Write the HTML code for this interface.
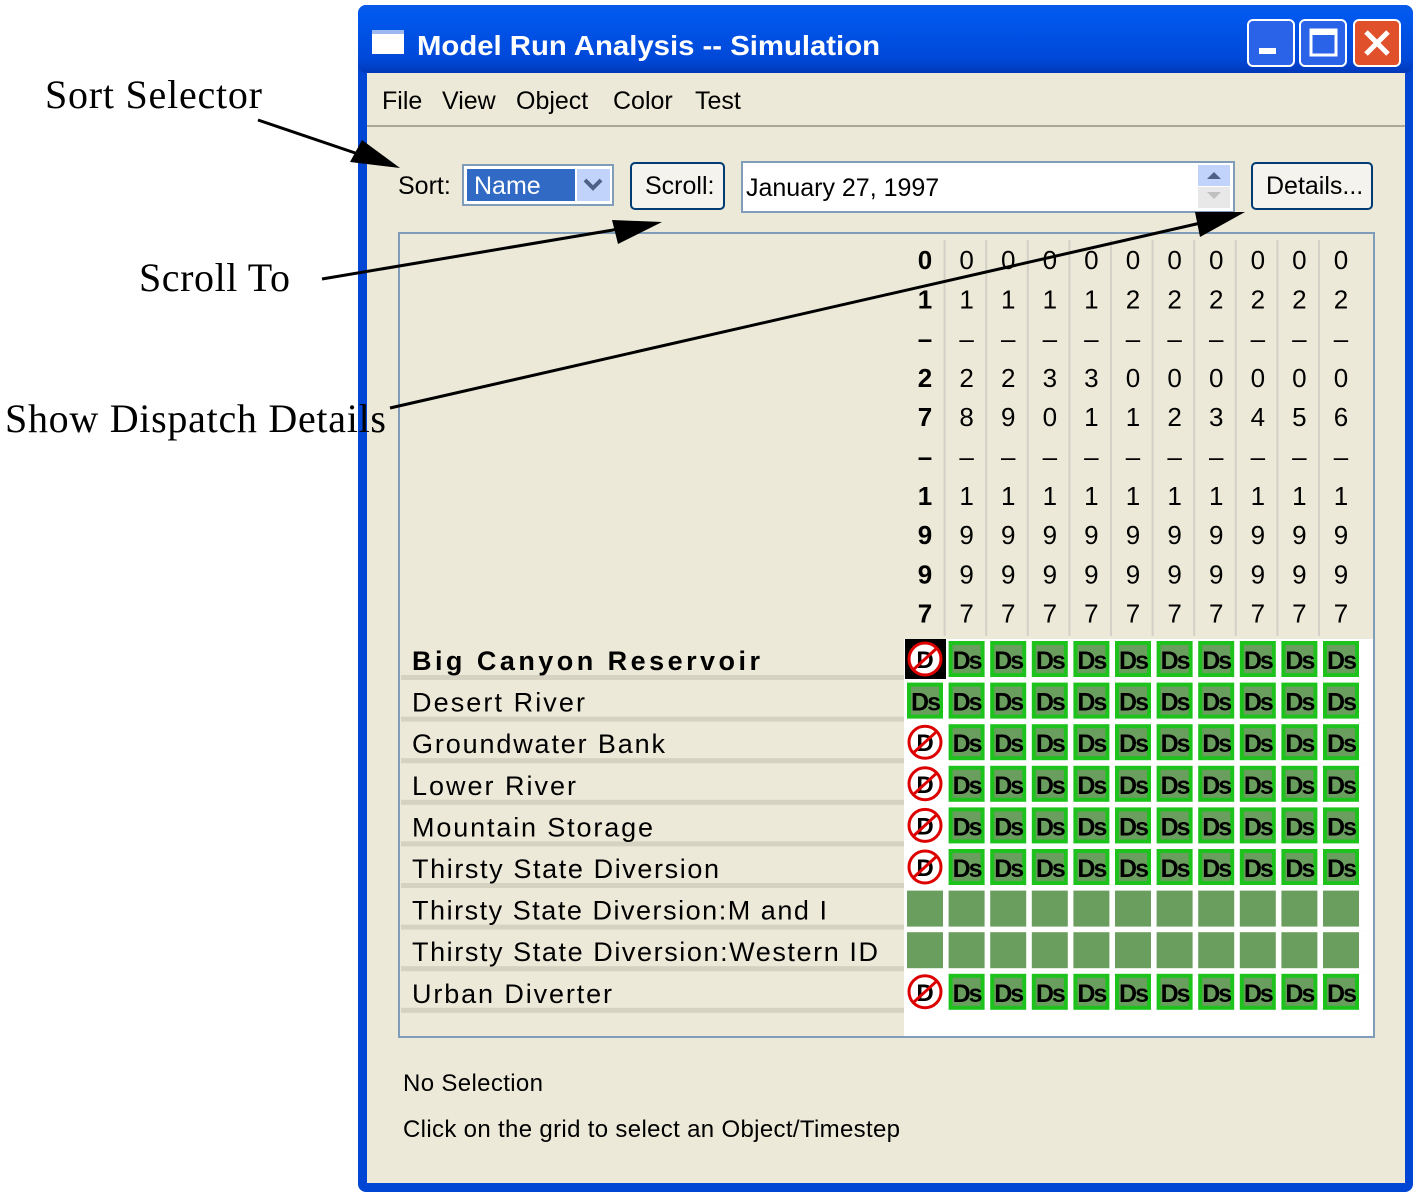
<!DOCTYPE html>
<html><head><meta charset="utf-8"><style>
html,body{margin:0;padding:0;background:#fff;width:1417px;height:1200px;overflow:hidden}
svg{display:block}
</style></head><body>
<svg id="s" width="1417" height="1200" xmlns="http://www.w3.org/2000/svg" font-family="Liberation Sans, sans-serif">
<defs>
<linearGradient id="tb" x1="0" y1="0" x2="0" y2="1"><stop offset="0" stop-color="#0A5BE8"/><stop offset="0.15" stop-color="#0058EE"/><stop offset="0.8" stop-color="#0048D8"/><stop offset="1" stop-color="#0038B8"/></linearGradient>
</defs>
<rect x="358" y="5" width="1055" height="1187" rx="8" fill="#0046D5"/>
<rect x="358" y="5" width="1055" height="68" rx="8" fill="url(#tb)"/>
<rect x="367" y="73" width="1038" height="1110" fill="#ECE9D8"/>
<rect x="372" y="32" width="32" height="22" fill="#fff"/><rect x="372" y="30" width="32" height="4" fill="#9BB8F0"/>
<text x="417" y="55" font-size="28" font-weight="bold" fill="#fff" textLength="463" lengthAdjust="spacingAndGlyphs">Model Run Analysis -- Simulation</text>
<rect x="1248" y="20" width="46" height="46" rx="5" fill="#2A62E8" stroke="#fff" stroke-width="2"/>
<rect x="1259" y="48" width="17" height="6" fill="#fff"/>
<rect x="1300" y="20" width="46" height="46" rx="5" fill="#2A62E8" stroke="#fff" stroke-width="2"/>
<rect x="1311" y="30" width="25" height="25" fill="none" stroke="#fff" stroke-width="3"/><rect x="1311" y="30" width="25" height="5" fill="#fff"/>
<rect x="1354" y="20" width="46" height="46" rx="5" fill="#E0502A" stroke="#fff" stroke-width="2"/>
<path d="M1366 32 L1388 54 M1388 32 L1366 54" stroke="#fff" stroke-width="5"/>
<g font-size="25" fill="#000">
<text x="382" y="109">File</text><text x="442" y="109">View</text><text x="516" y="109">Object</text><text x="613" y="109">Color</text><text x="695" y="109">Test</text>
</g>
<line x1="367" y1="126" x2="1405" y2="126" stroke="#ACA899" stroke-width="2"/>
<text x="398" y="194" font-size="25">Sort:</text>
<rect x="463" y="165" width="150" height="40" fill="#fff" stroke="#7F9DB9" stroke-width="2"/>
<rect x="467" y="169" width="108" height="32" fill="#316AC5"/>
<text x="474" y="194" font-size="25" fill="#fff">Name</text>
<rect x="577" y="169" width="33" height="32" fill="#C1D3FB"/>
<path d="M585 180 L593 188 L601 180" stroke="#4D6185" stroke-width="4" fill="none"/>
<rect x="631" y="163" width="93" height="46" rx="4" fill="#F4F3EE" stroke="#003C74" stroke-width="2"/>
<text x="645" y="194" font-size="25">Scroll:</text>
<rect x="742" y="162" width="492" height="50" fill="#fff" stroke="#7F9DB9" stroke-width="2"/>
<text x="746" y="196" font-size="25">January 27, 1997</text>
<rect x="1198" y="165" width="32" height="21" fill="#C1D3FB"/><path d="M1207 179 L1214 172 L1221 179Z" fill="#4D6185"/>
<rect x="1198" y="187" width="32" height="21" fill="#E8E8E8"/><path d="M1207 192 L1214 199 L1221 192Z" fill="#C0C0C0"/>
<rect x="1252" y="163" width="120" height="46" rx="4" fill="#F4F3EE" stroke="#003C74" stroke-width="2"/>
<text x="1266" y="194" font-size="25">Details...</text>
<rect x="399" y="233" width="975" height="804" fill="#ECE9D8" stroke="#7F9DB9" stroke-width="2"/>
<rect x="904" y="1012" width="469" height="24" fill="#fff"/>
<g id="g"></g>
<text x="403" y="1091" font-size="24" textLength="140">No Selection</text>
<text x="403" y="1137" font-size="24" textLength="497">Click on the grid to select an Object/Timestep</text>
<g font-family="Liberation Serif, serif" font-size="40" fill="#000">
<text x="45" y="108" textLength="217">Sort Selector</text>
<text x="139" y="291" textLength="151">Scroll To</text>
<text x="5" y="432" textLength="381">Show Dispatch Details</text>
</g>
<g stroke="#000" stroke-width="3">
<line x1="258" y1="120" x2="370" y2="158"/>
<line x1="322" y1="279" x2="625" y2="228"/>
<line x1="390" y1="408" x2="1205" y2="222"/>
</g>
<path d="M400 168 L350 162 L362 140Z" fill="#000"/>
<path d="M662 222 L618 244 L612 220Z" fill="#000"/>
<path d="M1245 212 L1200 237 L1195 212Z" fill="#000"/>
</svg>
<script>
var g=document.getElementById('g'),h='';
var cols=[];for(var i=0;i<11;i++)cols.push(905+41.6*i);
var dates=['0','1','–','2','7','–','1','9','9','7'];
var c2=[['0','1','–','2','8'],['0','1','–','2','9'],['0','1','–','3','0'],['0','1','–','3','1'],['0','2','–','0','1'],['0','2','–','0','2'],['0','2','–','0','3'],['0','2','–','0','4'],['0','2','–','0','5'],['0','2','–','0','6']];
for(var i=0;i<11;i++){
 var x=cols[i];
 if(i>0)h+='<line x1="'+(x-2)+'" y1="240" x2="'+(x-2)+'" y2="636" stroke="#D4D0C8" stroke-width="2"/>';
 var d=i==0?dates:c2[i-1].concat(['–','1','9','9','7']);
 for(var k=0;k<10;k++){
  var y=269+39.3*k;
  h+='<text x="'+(x+20)+'" y="'+y+'" font-size="26" text-anchor="middle" '+(i==0?'font-weight="bold"':'')+'>'+d[k]+'</text>';
 }
}
var names=['Big Canyon Reservoir','Desert River','Groundwater Bank','Lower River','Mountain Storage','Thirsty State Diversion','Thirsty State Diversion:M and I','Thirsty State Diversion:Western ID','Urban Diverter'];
var lens=[348,173,253,164,241,307,415,466,200];
for(var r=0;r<9;r++){
 var y=639+41.6*r;
 h+='<rect x="401" y="'+(y+36)+'" width="503" height="5" fill="#D6D2C2"/>';
 h+='<rect x="904" y="'+y+'" width="469" height="41.6" fill="#fff"/>';
 h+='<text x="412" y="'+(y+31)+'" font-size="27" textLength="'+lens[r]+'" '+(r==0?'font-weight="bold"':'')+'>'+names[r]+'</text>';
 for(var i=0;i<11;i++){
  var x=cols[i];
  if(r==6||r==7){h+='<rect x="'+(x+2)+'" y="'+(y+2)+'" width="36" height="36" fill="#6A9E5E"/>';continue;}
  if(i==0&&r!=1){
   if(r==0)h+='<rect x="'+x+'" y="'+y+'" width="41" height="40" fill="#000"/>';
   h+='<circle cx="'+(x+20)+'" cy="'+(y+20)+'" r="16" fill="#fff" stroke="#D00" stroke-width="3"/><text x="'+(x+20)+'" y="'+(y+29)+'" font-size="24" font-weight="bold" text-anchor="middle">D</text><line x1="'+(x+8)+'" y1="'+(y+31)+'" x2="'+(x+32)+'" y2="'+(y+9)+'" stroke="#D00" stroke-width="3"/>';
   continue;
  }
  h+='<rect x="'+(x+2)+'" y="'+(y+2)+'" width="36" height="36" fill="#1DC21D"/><rect x="'+(x+6)+'" y="'+(y+6)+'" width="28" height="28" fill="#6A9E5E"/><text x="'+(x+20)+'" y="'+(y+30)+'" font-size="25" font-weight="bold" text-anchor="middle" letter-spacing="-2">Ds</text>';
 }
}
g.innerHTML=h;
</script>
</body></html>
